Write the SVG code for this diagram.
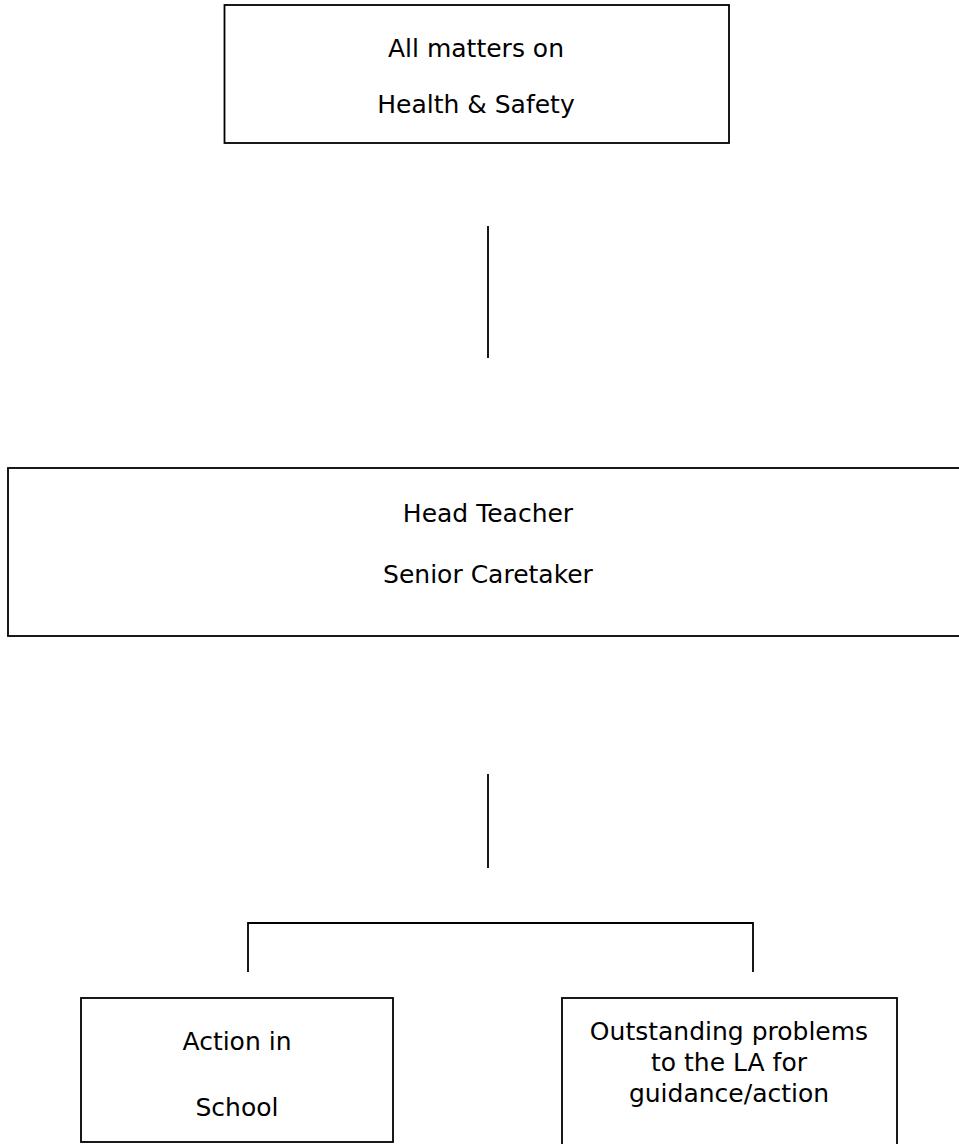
<svg xmlns="http://www.w3.org/2000/svg" width="959" height="1144" viewBox="0 0 959 1144">
<style>
.box{fill:#fff;stroke:#000;stroke-width:1.8}
.ln{fill:none;stroke:#000;stroke-width:1.8}
text{font-family:"DejaVu Sans","Liberation Sans",sans-serif;font-size:25px;fill:#000;text-anchor:middle}
</style>
<rect width="959" height="1144" fill="#fff"/>
<g id="connectors">
<line class="ln" x1="488" y1="226" x2="488" y2="358"/>
<line class="ln" x1="488" y1="774" x2="488" y2="868"/>
<polyline class="ln" points="248,972 248,923 753,923 753,972"/>
</g>
<g id="node-health-safety">
<rect class="box" x="224.5" y="5" width="504.5" height="138"/>
<text x="476" y="57">All matters on</text>
<text x="476" y="113">Health &amp; Safety</text>
</g>
<g id="node-head-teacher">
<rect class="box" x="8" y="468" width="970" height="168"/>
<text x="488" y="522">Head Teacher</text>
<text x="488" y="583">Senior Caretaker</text>
</g>
<g id="node-action-school">
<rect class="box" x="81" y="998" width="312" height="144"/>
<text x="237" y="1050">Action in</text>
<text x="237" y="1116">School</text>
</g>
<g id="node-outstanding">
<rect class="box" x="562" y="998" width="335" height="160"/>
<text x="729" y="1040">Outstanding problems</text>
<text x="729" y="1071">to the LA for</text>
<text x="729" y="1102">guidance/action</text>
</g>
</svg>
